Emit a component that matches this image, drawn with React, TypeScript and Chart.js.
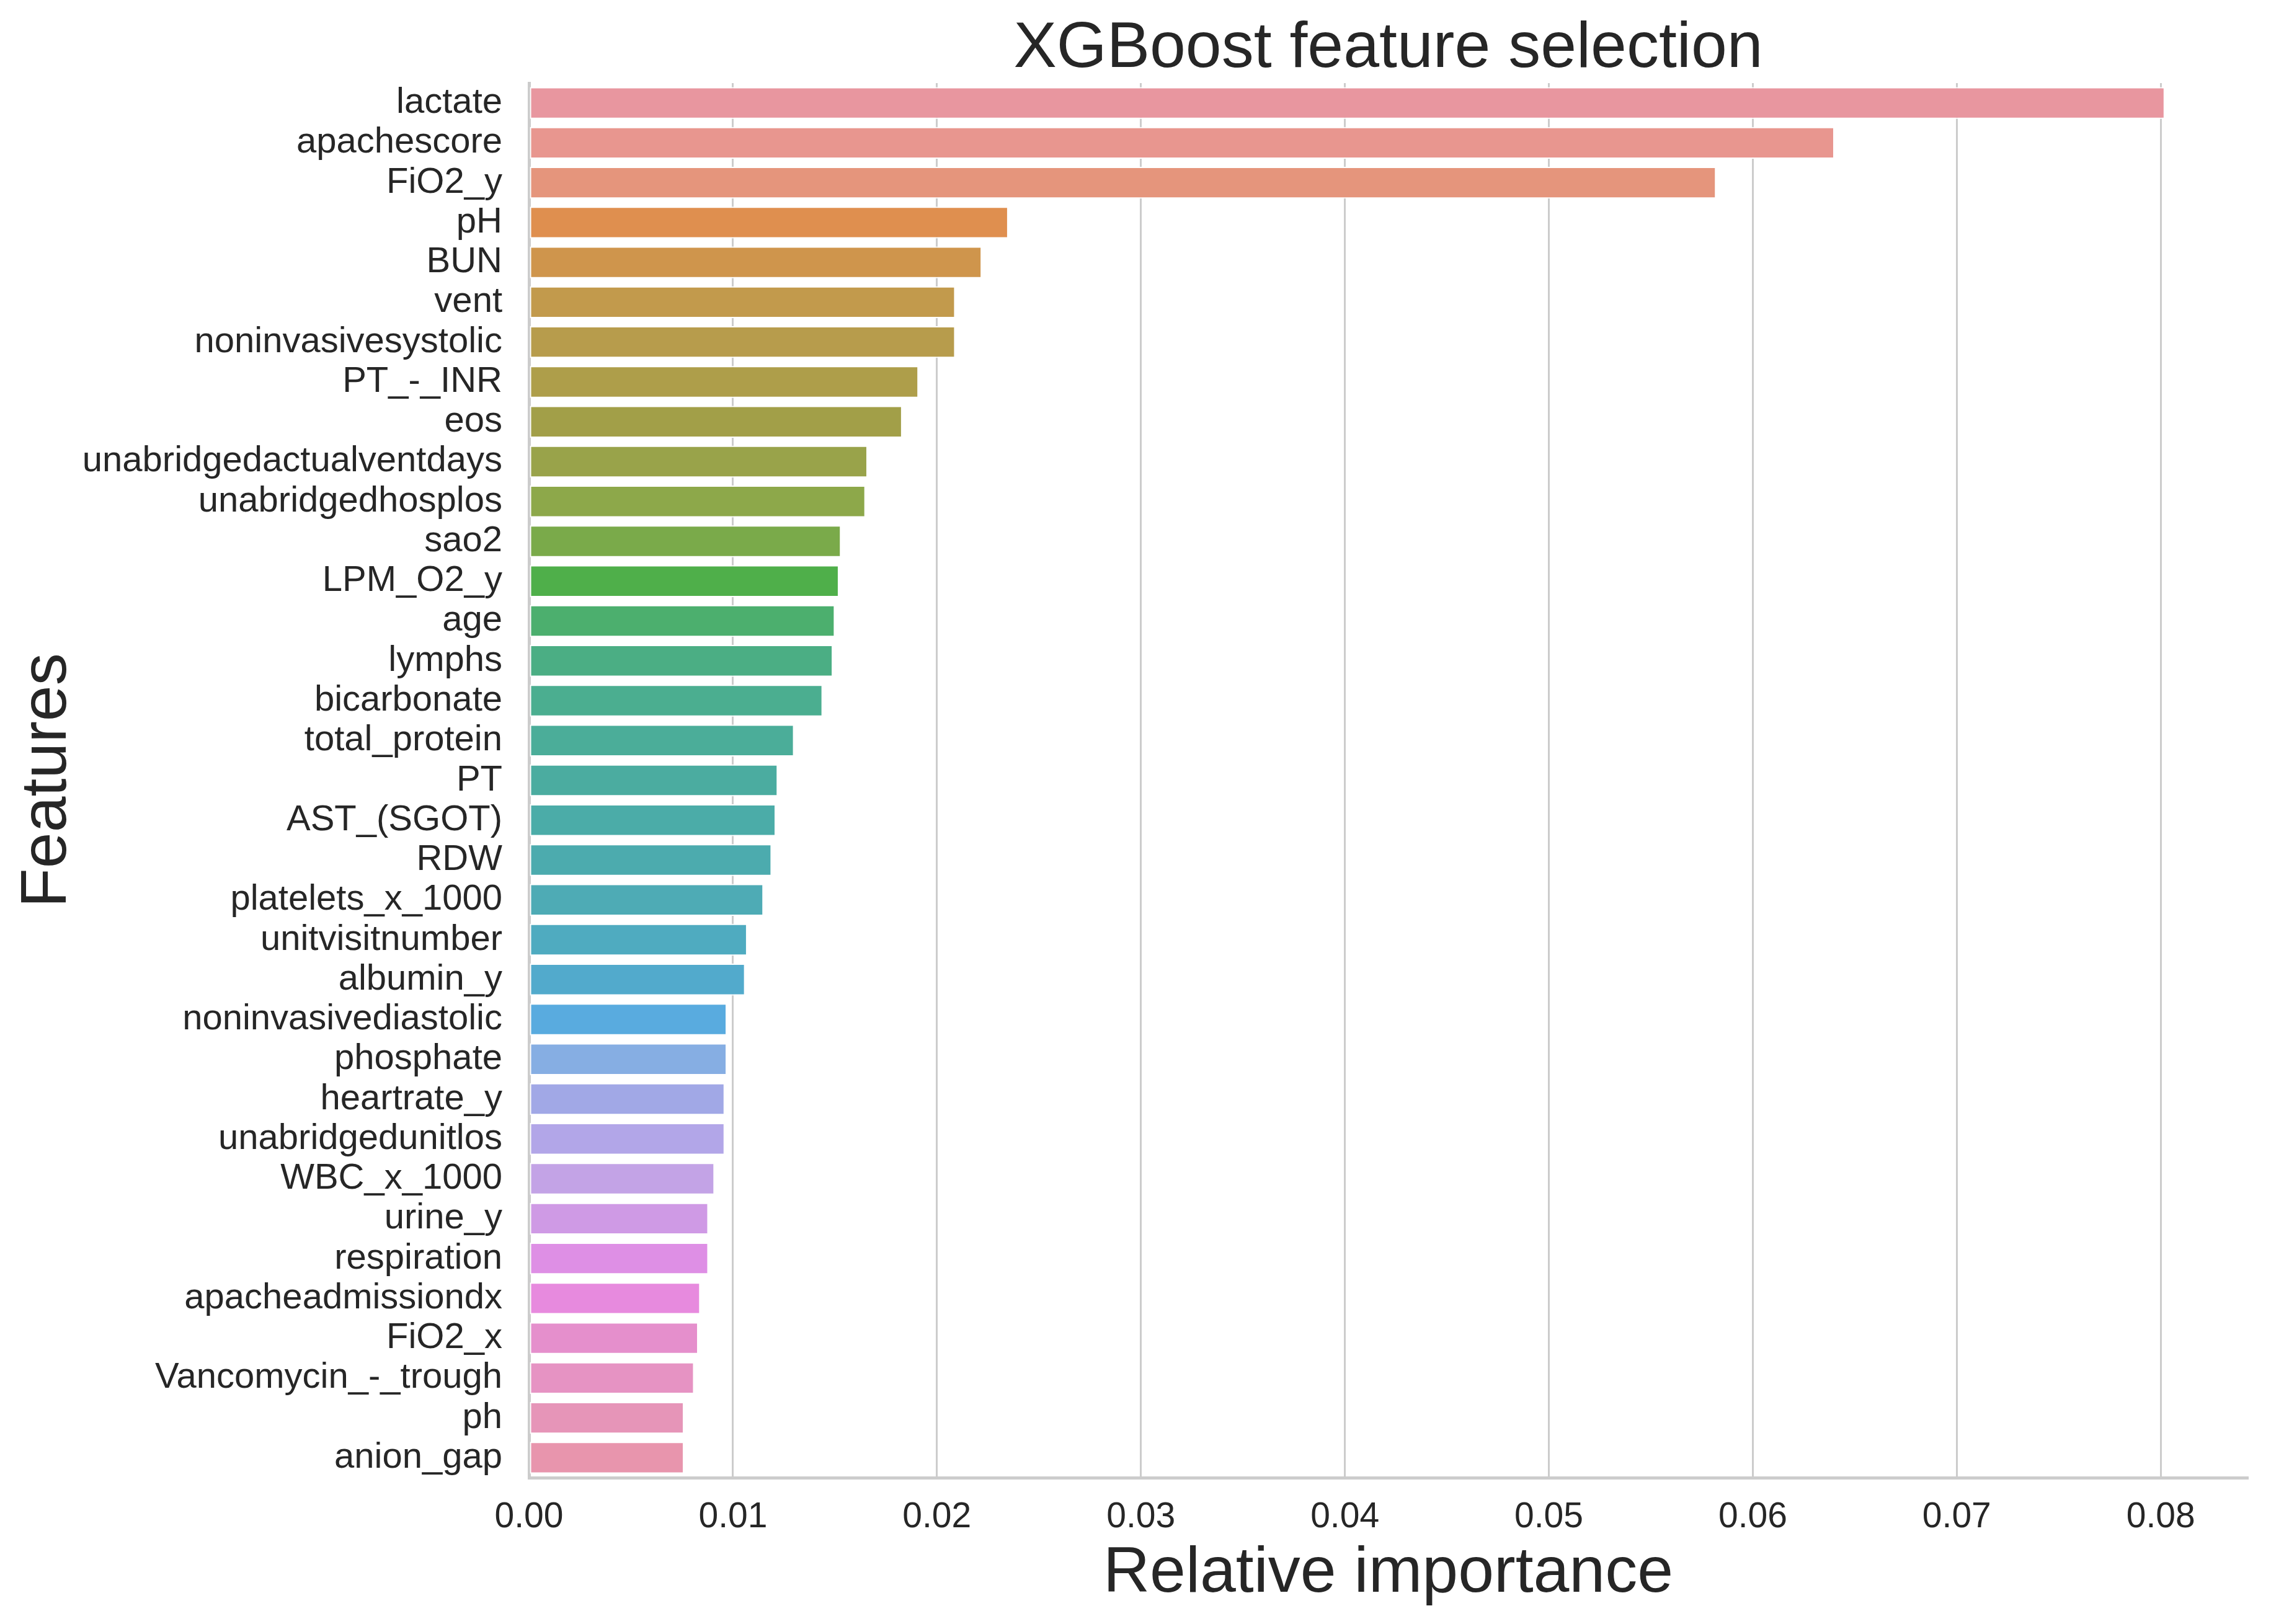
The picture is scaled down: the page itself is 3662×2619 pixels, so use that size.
import React, { useEffect, useRef } from "react";
import { Chart, registerables } from "chart.js";

Chart.register(...registerables);

// ---------------- Data ----------------
const features: string[] = [
  "lactate",
  "apachescore",
  "FiO2_y",
  "pH",
  "BUN",
  "vent",
  "noninvasivesystolic",
  "PT_-_INR",
  "eos",
  "unabridgedactualventdays",
  "unabridgedhosplos",
  "sao2",
  "LPM_O2_y",
  "age",
  "lymphs",
  "bicarbonate",
  "total_protein",
  "PT",
  "AST_(SGOT)",
  "RDW",
  "platelets_x_1000",
  "unitvisitnumber",
  "albumin_y",
  "noninvasivediastolic",
  "phosphate",
  "heartrate_y",
  "unabridgedunitlos",
  "WBC_x_1000",
  "urine_y",
  "respiration",
  "apacheadmissiondx",
  "FiO2_x",
  "Vancomycin_-_trough",
  "ph",
  "anion_gap",
];

const importance: number[] = [
  0.0802, 0.064, 0.0582, 0.0235, 0.0222, 0.0209, 0.0209, 0.0191, 0.0183,
  0.0166, 0.0165, 0.0153, 0.0152, 0.015, 0.0149, 0.0144, 0.013, 0.0122,
  0.0121, 0.0119, 0.0115, 0.0107, 0.0106, 0.0097, 0.0097, 0.0096, 0.0096,
  0.0091, 0.0088, 0.0088, 0.0084, 0.0083, 0.0081, 0.0076, 0.0076,
];

const barColors: string[] = [
  "#E8969F", "#E8968F", "#E5957C", "#DF8F4F", "#CF954C", "#C29A4C", "#B79C4C",
  "#AE9E4A", "#A29F48", "#99A34A", "#8DA84A", "#7AAA4A", "#4FAF4A", "#4CAF6E",
  "#4BAE84", "#4BAE90", "#4BAD99", "#4BACA0", "#4BACA8", "#4CABAE", "#4EABB5",
  "#4FABC0", "#52AACC", "#59ABDF", "#86AEE3", "#A1A8E6", "#B2A6E8", "#C3A3E6",
  "#CF9AE5", "#DE8FE5", "#E78ADE", "#E58FCC", "#E693C3", "#E695B8", "#E895AD",
];

const xTickValues: number[] = [0, 0.01, 0.02, 0.03, 0.04, 0.05, 0.06, 0.07, 0.08];

const TITLE = "XGBoost feature selection";
const X_TITLE = "Relative importance";
const Y_TITLE = "Features";

const FONT = "'Liberation Sans', Arial, Helvetica, sans-serif";
const TEXT_COLOR = "#262626";
const GRID_COLOR = "#cccccc";

export default function App() {
  const canvasRef = useRef<HTMLCanvasElement | null>(null);

  useEffect(() => {
    const canvas = canvasRef.current;
    if (!canvas) return;

    const chart = new Chart(canvas, {
      type: "bar",
      data: {
        labels: features,
        datasets: [
          {
            data: importance,
            backgroundColor: barColors,
            borderColor: "#ffffff",
            borderWidth: 2,
            borderSkipped: false,
            barPercentage: 0.8,
            categoryPercentage: 1.0,
          },
        ],
      },
      options: {
        indexAxis: "y",
        animation: false,
        responsive: false,
        devicePixelRatio: 1,
        layout: { padding: { left: 0, right: 38, top: 0, bottom: 0 } },
        plugins: {
          legend: { display: false },
          tooltip: { enabled: false },
          title: {
            display: true,
            text: TITLE,
            fullSize: false,
            color: TEXT_COLOR,
            font: { family: FONT, size: 104, weight: "normal", lineHeight: 1.0 },
            padding: { top: 27, bottom: 3 },
          },
        },
        scales: {
          x: {
            type: "linear",
            min: 0,
            max: 0.08425,
            afterFit: (scale: any) => {
              scale.height = 236;
            },
            afterBuildTicks: (scale: any) => {
              scale.ticks = xTickValues.map((v) => ({ value: v }));
            },
            ticks: {
              includeBounds: false,
              stepSize: 0.01,
              padding: 30,
              color: TEXT_COLOR,
              font: { family: FONT, size: 57 },
              callback: (v: any) => Number(v).toFixed(2),
              maxRotation: 0,
              autoSkip: false,
            },
            grid: {
              display: true,
              color: GRID_COLOR,
              lineWidth: 3,
              drawTicks: false,
            },
            border: { display: true, color: GRID_COLOR, width: 5 },
            title: {
              display: true,
              text: X_TITLE,
              color: TEXT_COLOR,
              font: { family: FONT, size: 104 },
              padding: { top: 0, bottom: 18 },
            },
          },
          y: {
            type: "category",
            offset: true,
            afterFit: (scale: any) => {
              scale.width = 853;
            },
            ticks: {
              padding: 43,
              color: TEXT_COLOR,
              font: { family: FONT, size: 58 },
              autoSkip: false,
            },
            grid: { display: false, drawTicks: false },
            border: { display: true, color: GRID_COLOR, width: 5 },
            title: {
              display: true,
              text: Y_TITLE,
              color: TEXT_COLOR,
              font: { family: FONT, size: 104 },
              padding: { top: 15, bottom: 0 },
            },
          },
        },
      },
    } as any);

    return () => {
      chart.destroy();
    };
  }, []);

  return (
    <div style={{ position: "absolute", left: 0, top: 0, width: 3662, height: 2619, background: "#ffffff" }}>
      <canvas ref={canvasRef} width={3662} height={2619} style={{ width: 3662, height: 2619, display: "block" }} />
    </div>
  );
}
